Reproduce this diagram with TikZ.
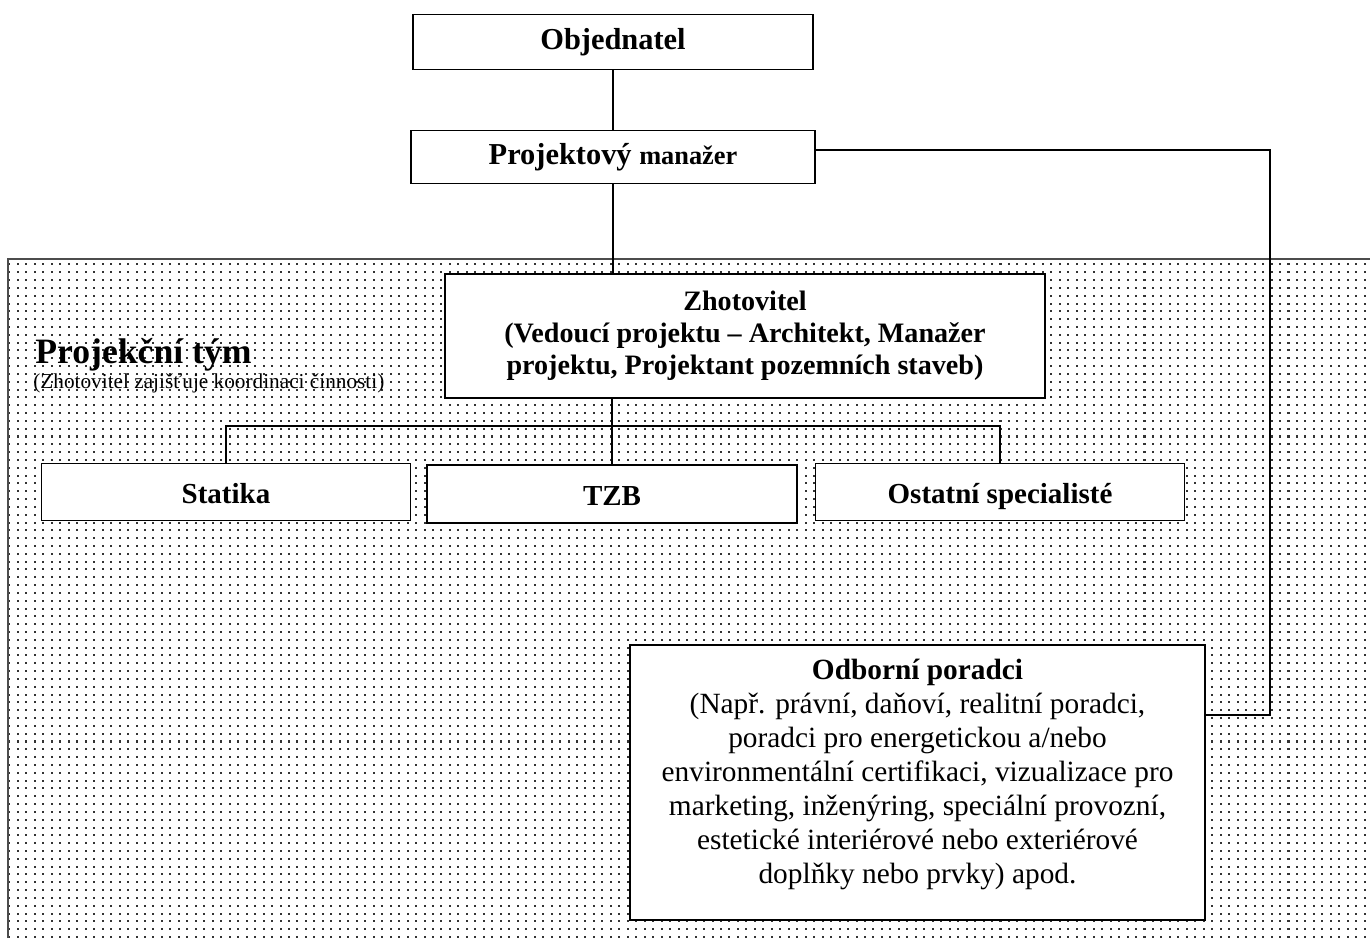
\documentclass[tikz,border=0pt]{standalone}
\usepackage{fontspec}
\setmainfont{Liberation Serif}
\usetikzlibrary{patterns, positioning}
\pgfdeclarepatternformonly{teamdots}{\pgfqpoint{-1pt}{-1pt}}{\pgfqpoint{6pt}{6pt}}{\pgfqpoint{4.82pt}{4.45pt}}{%
  \pgfpathrectangle{\pgfqpoint{0pt}{0pt}}{\pgfqpoint{1.15pt}{1.15pt}}\pgfusepath{fill}}

\begin{document}
\begin{tikzpicture}[
    box/.style={rectangle, draw=black, thick, fill=white, align=center, inner sep=2pt},
    headbox/.style={box, font=\fontsize{17.3}{20}\selectfont\bfseries},
    teambox/.style={box, minimum width=7.38cm, minimum height=1.15cm, text height=0.52cm, text depth=0.08cm, font=\fontsize{16.5}{20}\selectfont\bfseries},
    link/.style={thick, black}
]
    \useasboundingbox (0,0) rectangle (27.4,-18.76);

    % Project team area
    \fill[pattern=teamdots, pattern color=black!80] (0.16,-5.18) rectangle (27.4,-18.76);
    \draw[black!70, line width=1.2pt] (0.16,-18.76) -- (0.16,-5.18) -- (27.4,-5.18);
    \node[anchor=base west, font=\fontsize{20.3}{22}\selectfont\bfseries, inner sep=0pt] (team) at (0.7,-7.27) {Projekční tým};
    \node[anchor=base west, font=\fontsize{12.1}{13}\selectfont, inner sep=0pt] (teamnote) at (0.66,-7.77) {(Zhotovitel zajišťuje koordinaci činnosti)};

    % Client and manager
    \node[headbox, minimum width=8cm, minimum height=1.1cm] (client) at (12.26,-0.84) {Objednatel};
    \node[headbox, minimum width=8.08cm, minimum height=1.06cm] (pm) at (12.26,-3.14) {Projektový {\fontsize{15}{18}\selectfont manažer}};

    % Contractor
    \node[box, minimum width=12cm, minimum height=2.48cm, font=\fontsize{16}{18.2}\selectfont\bfseries] (zhot) at (14.9,-6.72)
        {Zhotovitel\\(Vedoucí projektu – Architekt, Manažer\\projektu, Projektant pozemních staveb)};

    % Specialists
    \node[teambox] (statika) at (4.52,-9.84) {Statika};
    \node[teambox, minimum width=7.4cm, minimum height=1.16cm] (tzb) at (12.24,-9.88) {TZB};
    \node[teambox] (ostatni) at (20.0,-9.84) {Ostatní specialisté};

    % Advisors
    \node[box, minimum width=11.5cm, minimum height=5.5cm, text depth=0.45cm, font=\fontsize{16.7}{19.3}\selectfont] (advisors) at (18.35,-15.65)
        {{\bfseries Odborní poradci}\\(Např. právní, daňoví, realitní poradci,\\poradci pro energetickou a/nebo\\environmentální certifikaci, vizualizace pro\\marketing, inženýring, speciální provozní,\\estetické interiérové nebo exteriérové\\doplňky nebo prvky) apod.};

    \coordinate (bus) at (12.26,-8.52);
    \coordinate (rail) at (25.4,-14.3);

    % Lines
    \draw[link] (client) -- (pm);
    \draw[link] (pm.south) -- (pm.south |- zhot.north);
    \draw[link] (tzb.north |- zhot.south) -- (tzb.north);
    \draw[link] (statika.north) |- (bus) -| (ostatni.north);
    \draw[link] ([yshift=0.14cm]pm.east) -| (rail) -- (rail -| advisors.east);
\end{tikzpicture}
\end{document}
